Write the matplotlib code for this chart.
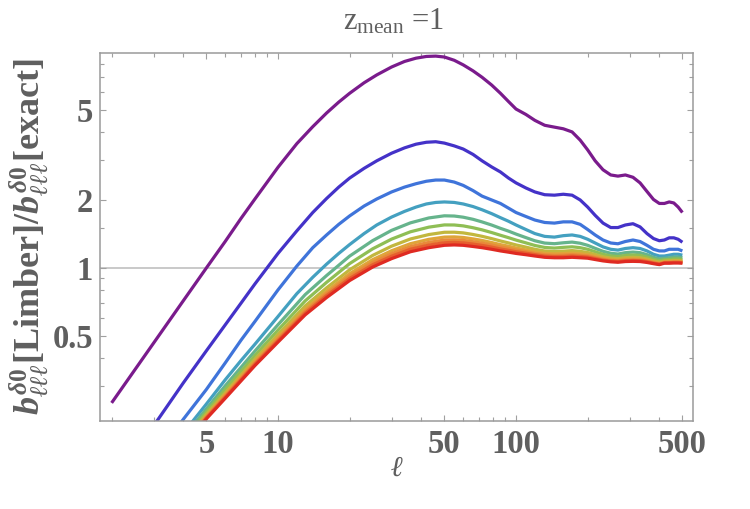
import matplotlib
matplotlib.use("Agg")
import matplotlib.pyplot as plt
from matplotlib.ticker import FixedLocator, NullFormatter, FixedFormatter

plt.rcParams['mathtext.fontset'] = 'custom'
plt.rcParams['mathtext.rm'] = 'Liberation Serif:bold'
plt.rcParams['mathtext.it'] = 'Liberation Serif:italic:bold'
plt.rcParams['mathtext.bf'] = 'Liberation Serif:bold'
plt.rcParams['mathtext.fallback'] = 'stix'

# multipole grid for the upper four curves
ell_fine = [2, 3, 4, 5, 6, 7, 8, 10, 12, 14, 16, 18, 20, 23, 26, 30, 34, 38, 42, 46, 50, 55, 60,
            66, 72, 79, 86, 93, 100, 110, 120, 132, 145, 158, 172, 186, 200, 215, 232, 250, 268,
            288, 310, 332, 355, 378, 400, 420, 440, 460, 480, 500]
# multipole grid for the lower clustered curves
ell_mid = [2, 3, 4, 5, 6, 8, 10, 13, 16, 20, 25, 30, 36, 43, 50, 55, 60, 66, 72, 79, 86, 93,
           100, 110, 120, 132, 145, 158, 172, 186, 200, 215, 232, 250, 268, 288, 310, 332, 355,
           378, 400, 420, 440, 460, 480, 500]

c1 = [0.253, 0.465, 0.716, 1.0, 1.31, 1.66, 2.02, 2.79, 3.55, 4.22, 4.85, 5.42, 5.93, 6.6, 7.15,
      7.75, 8.2, 8.48, 8.63, 8.66, 8.58, 8.3, 7.92, 7.45, 6.98, 6.45, 5.93, 5.45, 5.05, 4.78, 4.5,
      4.28, 4.2, 4.13, 4.0, 3.68, 3.33, 2.98, 2.72, 2.58, 2.55, 2.58, 2.52, 2.38, 2.18, 2.01, 1.93,
      1.93, 1.96, 1.94, 1.86, 1.76]
c2 = [0.11, 0.20, 0.31, 0.43, 0.56, 0.70, 0.85, 1.16, 1.46, 1.76, 2.03, 2.28, 2.50, 2.76, 2.98,
      3.22, 3.40, 3.53, 3.60, 3.62, 3.57, 3.47, 3.36, 3.18, 2.98, 2.80, 2.66, 2.50, 2.38, 2.26, 2.17,
      2.11, 2.10, 2.12, 2.10, 2.0, 1.86, 1.71, 1.58, 1.51, 1.51, 1.55, 1.57, 1.52, 1.42, 1.35, 1.32,
      1.33, 1.36, 1.36, 1.34, 1.30]
c3 = [0.078, 0.142, 0.214, 0.29, 0.38, 0.48, 0.58, 0.80, 1.02, 1.23, 1.40, 1.56, 1.70, 1.88, 2.02,
      2.17, 2.28, 2.36, 2.42, 2.45, 2.45, 2.40, 2.32, 2.20, 2.08, 2.0, 1.93, 1.84, 1.76, 1.69, 1.63,
      1.59, 1.58, 1.60, 1.60, 1.56, 1.48, 1.40, 1.33, 1.29, 1.28, 1.31, 1.33, 1.31, 1.26, 1.21, 1.19,
      1.19, 1.21, 1.21, 1.21, 1.19]
c4 = [0.075, 0.128, 0.186, 0.25, 0.32, 0.39, 0.46, 0.61, 0.77, 0.91, 1.04, 1.16, 1.27, 1.42, 1.55,
      1.68, 1.78, 1.86, 1.92, 1.95, 1.96, 1.95, 1.92, 1.87, 1.81, 1.74, 1.67, 1.61, 1.55, 1.48, 1.42,
      1.38, 1.37, 1.39, 1.40, 1.38, 1.34, 1.29, 1.24, 1.21, 1.20, 1.22, 1.23, 1.22, 1.19, 1.15, 1.13,
      1.13, 1.14, 1.15, 1.15, 1.14]
c5 = [0.072, 0.122, 0.178, 0.238, 0.301, 0.429, 0.561, 0.762, 0.926, 1.129, 1.322, 1.467, 1.584, 1.665, 1.702,
      1.698, 1.678, 1.642, 1.599, 1.549, 1.498, 1.456, 1.413, 1.363, 1.320, 1.289, 1.281, 1.293, 1.302, 1.287,
      1.260, 1.222, 1.185, 1.162, 1.153, 1.169, 1.176, 1.169, 1.146, 1.115, 1.099, 1.104, 1.110, 1.118, 1.118, 1.110]
c6 = [0.070, 0.119, 0.172, 0.231, 0.290, 0.410, 0.531, 0.715, 0.864, 1.046, 1.216, 1.342, 1.446, 1.516, 1.551,
      1.550, 1.536, 1.507, 1.475, 1.435, 1.396, 1.362, 1.329, 1.292, 1.258, 1.233, 1.225, 1.234, 1.241, 1.230,
      1.210, 1.180, 1.150, 1.131, 1.124, 1.137, 1.142, 1.137, 1.118, 1.093, 1.079, 1.087, 1.091, 1.097, 1.097, 1.091]
c7 = [0.069, 0.116, 0.168, 0.225, 0.280, 0.395, 0.508, 0.679, 0.817, 0.982, 1.137, 1.249, 1.344, 1.406, 1.439,
      1.440, 1.430, 1.407, 1.381, 1.349, 1.317, 1.291, 1.265, 1.237, 1.210, 1.189, 1.182, 1.187, 1.194, 1.185,
      1.171, 1.147, 1.122, 1.107, 1.100, 1.111, 1.116, 1.111, 1.096, 1.075, 1.063, 1.073, 1.076, 1.080, 1.080, 1.076]
c8 = [0.068, 0.114, 0.166, 0.221, 0.275, 0.386, 0.494, 0.657, 0.788, 0.944, 1.089, 1.192, 1.281, 1.339, 1.370,
      1.373, 1.365, 1.345, 1.324, 1.296, 1.269, 1.248, 1.226, 1.202, 1.180, 1.161, 1.155, 1.159, 1.164, 1.157,
      1.146, 1.125, 1.105, 1.091, 1.085, 1.095, 1.099, 1.095, 1.082, 1.064, 1.052, 1.065, 1.066, 1.070, 1.070, 1.066]
c9 = [0.067, 0.113, 0.164, 0.219, 0.271, 0.380, 0.485, 0.643, 0.770, 0.920, 1.059, 1.157, 1.243, 1.298, 1.329,
      1.332, 1.325, 1.307, 1.288, 1.264, 1.239, 1.220, 1.201, 1.181, 1.161, 1.144, 1.138, 1.140, 1.146, 1.139,
      1.131, 1.112, 1.094, 1.081, 1.076, 1.085, 1.088, 1.085, 1.073, 1.057, 1.046, 1.059, 1.060, 1.063, 1.063, 1.060]
c10 = [0.066, 0.112, 0.162, 0.217, 0.268, 0.375, 0.477, 0.631, 0.755, 0.899, 1.034, 1.128, 1.211, 1.263, 1.294,
       1.298, 1.292, 1.276, 1.259, 1.237, 1.214, 1.197, 1.180, 1.163, 1.146, 1.129, 1.124, 1.125, 1.130, 1.125,
       1.118, 1.101, 1.084, 1.073, 1.068, 1.077, 1.079, 1.077, 1.066, 1.051, 1.040, 1.055, 1.055, 1.058, 1.058, 1.055]
c11 = [0.066, 0.111, 0.161, 0.215, 0.265, 0.37, 0.47, 0.62, 0.74, 0.88, 1.01, 1.10, 1.18, 1.23, 1.26,
       1.265, 1.26, 1.245, 1.23, 1.21, 1.19, 1.175, 1.16, 1.145, 1.13, 1.115, 1.11, 1.11, 1.115, 1.11,
       1.105, 1.09, 1.075, 1.065, 1.06, 1.068, 1.07, 1.068, 1.058, 1.045, 1.035, 1.05, 1.05, 1.052, 1.052, 1.05]

series = [(ell_fine, c1), (ell_fine, c2), (ell_fine, c3), (ell_fine, c4), (ell_mid, c5), (ell_mid, c6),
          (ell_mid, c7), (ell_mid, c8), (ell_mid, c9), (ell_mid, c10), (ell_mid, c11)]
colors = ['#7A1B8C', '#4432C8', '#3F74DA', '#44A0C0', '#66B48C', '#8FBE55',
          '#C2B73E', '#DFA43A', '#E8893A', '#E65F2E', '#DF2A22']

x_major = [5, 10, 50, 100, 500]
x_minor = [2, 3, 4, 6, 7, 8, 9, 20, 30, 40, 60, 70, 80, 90, 200, 300, 400]
y_major = [0.5, 1, 2, 5]
y_minor = [0.3, 0.4, 0.6, 0.7, 0.8, 0.9, 1.5, 3, 4, 6, 7, 8]

txt = '#5f5f5f'
fig = plt.figure(figsize=(7.5, 5.09), dpi=100)
ax = fig.add_axes([0.1333, 0.1729, 0.7907, 0.7230])
ax.set_xscale('log')
ax.set_yscale('log')
ax.axhline(1, color='#c9c9c9', lw=1.4, zorder=1)
for (xs, s), c in zip(series, colors):
    ax.plot(xs, s, color=c, lw=2.3, solid_capstyle='butt', solid_joinstyle='round', zorder=2)

ax.set_xlim(1.787, 554)
ax.set_ylim(0.2104, 8.94)

ax.xaxis.set_major_locator(FixedLocator(x_major))
ax.xaxis.set_major_formatter(FixedFormatter([str(v) for v in x_major]))
ax.xaxis.set_minor_locator(FixedLocator(x_minor))
ax.xaxis.set_minor_formatter(NullFormatter())
ax.yaxis.set_major_locator(FixedLocator(y_major))
ax.yaxis.set_major_formatter(FixedFormatter(['0.5', '1', '2', '5']))
ax.yaxis.set_minor_locator(FixedLocator(y_minor))
ax.yaxis.set_minor_formatter(NullFormatter())

ax.tick_params(which='both', direction='in', top=True, right=True, color='#a0a0a0', width=0.8)
ax.tick_params(which='major', length=4.5)
ax.tick_params(which='minor', length=2.8)
ax.tick_params(axis='x', which='major', pad=6)
ax.tick_params(axis='y', which='major', pad=5)
for lab in ax.get_xticklabels() + ax.get_yticklabels():
    lab.set_fontfamily('Liberation Serif')
    lab.set_fontweight('bold')
    lab.set_fontsize(23.5)
    lab.set_color(txt)
for sp in ax.spines.values():
    sp.set_color('#9a9a9a')
    sp.set_linewidth(1.1)

ax.set_xlabel(r'$\ell$', fontsize=21, color=txt, labelpad=-5)
ax.set_ylabel(r'$b^{\delta0}_{\ell\ell\ell}$[Limber]/$b^{\delta0}_{\ell\ell\ell}$[exact]',
              fontsize=26, color=txt, fontfamily='Liberation Serif', fontweight='bold', labelpad=0)
fig.text(0.525, 0.958, r'$\mathregular{z_{mean}}$ =1', ha='center', va='center',
         fontsize=22, color=txt, fontfamily='Liberation Serif')

fig.savefig('out.png', dpi=100)
